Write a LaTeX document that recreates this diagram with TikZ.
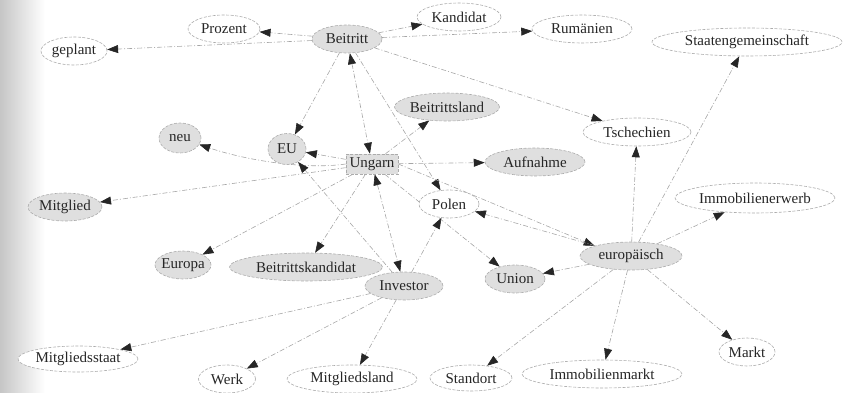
\documentclass[tikz,border=0pt]{standalone}
\usepackage{fontspec}
\setmainfont{Liberation Serif}
\usetikzlibrary{shapes.geometric,arrows.meta,backgrounds}
\begin{document}
\begin{tikzpicture}[x=1pt,y=-1pt,
  base/.style={ellipse, draw=gray!65, dash pattern=on 3pt off 1.5pt, line width=0.6pt,
    inner xsep=-12pt, inner ysep=0pt, minimum height=28, text=black!85,
    font=\fontsize{15}{18}\selectfont},
  shd/.style={base, fill=gray!25},
  wht/.style={base, fill=white},
  boxnode/.style={rectangle, draw=gray!65, dash pattern=on 3pt off 1.5pt, line width=0.6pt,
    fill=gray!25, inner sep=0pt, minimum width=52, minimum height=20, text=black!85,
    font=\fontsize{15}{18}\selectfont},
  edge/.style={draw=gray!70, line width=0.6pt, dash pattern=on 5pt off 2pt on 1pt off 2pt,
    >={Triangle[length=11pt,width=8pt,color=black!85]}, ->},
  edge2/.style={edge, <->}
]
\useasboundingbox (0,0) rectangle (848,393);
\node[shd, minimum width=70] (beitritt) at (347,39) {Beitritt};
\node[wht, minimum width=72] (prozent) at (224,29) {Prozent};
\node[wht, minimum width=66] (geplant) at (74,51) {geplant};
\node[wht, minimum width=84] (kandidat) at (459,17) {Kandidat};
\node[wht, minimum width=100] (rumaenien) at (582,29) {Rumänien};
\node[wht, minimum width=190] (staaten) at (747,42) {Staatengemeinschaft};
\node[shd, minimum width=105] (beitrittsland) at (447,107) {Beitrittsland};
\node[wht, minimum width=108] (tschechien) at (637,132) {Tschechien};
\node[shd, minimum width=100] (aufnahme) at (535,162) {Aufnahme};
\node[wht, minimum width=160, minimum height=30] (immoerwerb) at (755,198) {Immobilienerwerb};
\node[shd, minimum width=42, minimum height=30] (neu) at (180,138) {neu};
\node[shd, minimum width=38, minimum height=31] (eu) at (287,149) {EU};
\node[boxnode] (ungarn) at (372,164) {Ungarn};
\node[shd, minimum width=74] (mitglied) at (65,207) {Mitglied};
\node[wht, minimum width=60] (polen) at (449,204) {Polen};
\node[shd, minimum width=102] (europaeisch) at (631,256) {europäisch};
\node[shd, minimum width=60] (union) at (515,279) {Union};
\node[shd, minimum width=56] (europa) at (183,265) {Europa};
\node[shd, minimum width=153] (beitrittskandidat) at (306,267) {Beitrittskandidat};
\node[shd, minimum width=78] (investor) at (404,286) {Investor};
\node[wht, minimum width=120, minimum height=26] (mitgliedsstaat) at (78,359) {Mitgliedsstaat};
\node[wht, minimum width=57] (werk) at (227,379) {Werk};
\node[wht, minimum width=130] (mitgliedsland) at (352,379) {Mitgliedsland};
\node[wht, minimum width=82, minimum height=26] (standort) at (471,378) {Standort};
\node[wht, minimum width=160] (immomarkt) at (602,374) {Immobilienmarkt};
\node[wht, minimum width=56] (markt) at (747,352) {Markt};
\begin{pgfonlayer}{background}
\shade[left color=gray!45, right color=white] (0,0) rectangle (45,393);
\draw[edge] (beitritt) -- (prozent);
\draw[edge] (beitritt) -- (geplant);
\draw[edge] (beitritt) -- (kandidat);
\draw[edge] (beitritt) -- (rumaenien);
\draw[edge] (beitritt) -- (tschechien);
\draw[edge] (beitritt) -- (eu);
\draw[edge2] (beitritt) -- (ungarn);
\draw[edge] (beitritt) -- (polen);
\draw[edge] (ungarn) -- (eu);
\draw[edge] (ungarn.west) .. controls (305,170) and (245,160) .. (neu);
\draw[edge] (ungarn) -- (mitglied);
\draw[edge] (ungarn) -- (beitrittsland);
\draw[edge] (ungarn) -- (aufnahme);
\draw[edge] (ungarn) -- (europa);
\draw[edge] (ungarn) -- (beitrittskandidat);
\draw[edge2] (ungarn) -- (investor);
\draw[edge] (ungarn.east) -- (europaeisch.north west);
\draw[edge] (ungarn) -- (union);
\draw[edge] (investor) -- (eu);
\draw[edge] (investor) -- (polen);
\draw[edge] (investor) -- (mitgliedsstaat);
\draw[edge] (investor) -- (werk);
\draw[edge] (investor) -- (mitgliedsland);
\draw[edge] (europaeisch) -- (polen);
\draw[edge] (europaeisch) -- (union);
\draw[edge] (europaeisch) -- (tschechien);
\draw[edge] (europaeisch) -- (staaten);
\draw[edge] (europaeisch) -- (immoerwerb);
\draw[edge] (europaeisch) -- (standort);
\draw[edge] (europaeisch) -- (immomarkt);
\draw[edge] (europaeisch) -- (markt);
\end{pgfonlayer}
\end{tikzpicture}
\end{document}
